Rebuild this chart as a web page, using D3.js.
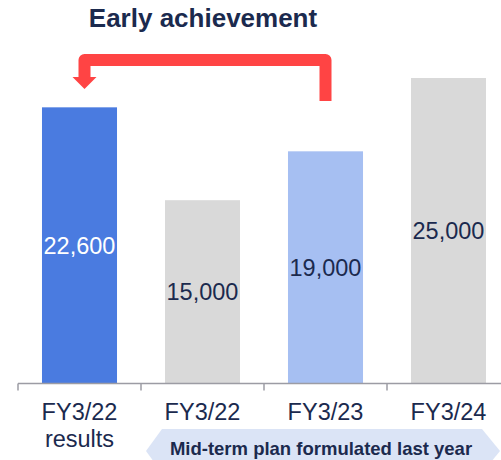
<!DOCTYPE html>
<html>
<head>
<meta charset="utf-8">
<script src="https://cdn.jsdelivr.net/npm/d3@7"></script>
<style>
  html, body { margin: 0; padding: 0; background: #fff; }
  svg { display: block; font-family: "Liberation Sans", Arial, sans-serif; }
</style>
</head>
<body>
<svg id="chart" width="501" height="460"></svg>
<script>
// chart data
const categories = ["results", "plan22", "plan23", "plan24"]
const categoryLabels = [["FY3/22", "results"], ["FY3/22"], ["FY3/23"], ["FY3/24"]]
const values = [22600, 15000, 19000, 25000]
const barColors = ["#4a7be0", "#d9d9d9", "#a6bff2", "#d9d9d9"]
const labelColors = ["#ffffff", "#1b2a4e", "#1b2a4e", "#1b2a4e"]
const title = "Early achievement"
const bannerText = "Mid-term plan formulated last year"

const NAVY = "#1b2a4e"
const RED = "#ff4444"

const svg = d3.select("#chart")

const x = d3
  .scaleBand()
  .domain(categories)
  .range([18, 510])
  .paddingInner(0.39)
  .paddingOuter(0.195)

const y = d3.scaleLinear().domain([0, 25000]).range([383.5, 78])

const step = x.step()
const boundary = (c) => x(c) - (step - x.bandwidth()) / 2

// bars
svg
  .selectAll("rect.bar")
  .data(values)
  .join("rect")
  .attr("class", "bar")
  .attr("x", (d, i) => x(categories[i]))
  .attr("y", (d) => y(d))
  .attr("width", x.bandwidth())
  .attr("height", (d) => y(0) - y(d))
  .attr("fill", (d, i) => barColors[i])

// value labels in the middle of each bar
svg
  .selectAll("text.value")
  .data(values)
  .join("text")
  .attr("class", "value")
  .attr("x", (d, i) => x(categories[i]) + x.bandwidth() / 2)
  .attr("y", (d) => (y(d) + y(0)) / 2)
  .attr("dy", "0.36em")
  .attr("text-anchor", "middle")
  .attr("font-size", "23.5px")
  .attr("fill", (d, i) => labelColors[i])
  .text((d) => d3.format(",")(d))

// axis line with ticks at band boundaries
const axisG = svg.append("g").attr("stroke", "#9c9ca4").attr("stroke-width", 1.5)
axisG
  .append("line")
  .attr("x1", boundary(categories[0]))
  .attr("x2", 501)
  .attr("y1", y(0))
  .attr("y2", y(0))
categories.forEach((c) => {
  axisG
    .append("line")
    .attr("x1", boundary(c))
    .attr("x2", boundary(c))
    .attr("y1", y(0))
    .attr("y2", y(0) + 7)
})

// category labels
categoryLabels.forEach((lines, i) => {
  const t = svg
    .append("text")
    .attr("text-anchor", "middle")
    .attr("font-size", "23.5px")
    .attr("fill", NAVY)
  lines.forEach((line, j) => {
    t.append("tspan")
      .attr("x", x(categories[i]) + x.bandwidth() / 2)
      .attr("y", 420 + j * 27)
      .text(line)
  })
})

// title
svg
  .append("text")
  .attr("x", 203)
  .attr("y", 27)
  .attr("text-anchor", "middle")
  .attr("font-size", "26px")
  .attr("font-weight", "bold")
  .attr("fill", NAVY)
  .text(title)

// red "early achievement" arrow from FY3/23 plan back to FY3/22 results
const xFrom = x(categories[2]) + x.bandwidth() / 2
const xTo = x(categories[0]) + x.bandwidth() / 2 + 5
svg
  .append("path")
  .attr("fill", "none")
  .attr("stroke", RED)
  .attr("stroke-width", 12)
  .attr("stroke-linejoin", "round")
  .attr("d", d3.line()([[xFrom, 101], [xFrom, 60], [xTo, 60], [xTo, 78]]))
svg
  .append("path")
  .attr("fill", RED)
  .attr("d", d3.line()([[xTo - 12, 77], [xTo + 12, 77], [xTo, 89]]) + "Z")

// banner under the plan categories
const bLeft = boundary(categories[1]) + 5
const bRight = boundary(categories[3]) + step - 10
const bTop = 429
const bMid = 451
const bBottom = 473
svg
  .append("path")
  .attr("fill", "#dbe4f6")
  .attr(
    "d",
    d3.line()([
      [bLeft, bMid],
      [bLeft + 16, bTop],
      [bRight - 18, bTop],
      [bRight, bMid],
      [bRight - 18, bBottom],
      [bLeft + 16, bBottom],
    ]) + "Z",
  )
svg
  .append("text")
  .attr("x", (bLeft + bRight) / 2 - 2)
  .attr("y", 455)
  .attr("text-anchor", "middle")
  .attr("font-size", "18.5px")
  .attr("font-weight", "bold")
  .attr("fill", NAVY)
  .text(bannerText)
</script>
</body>
</html>
